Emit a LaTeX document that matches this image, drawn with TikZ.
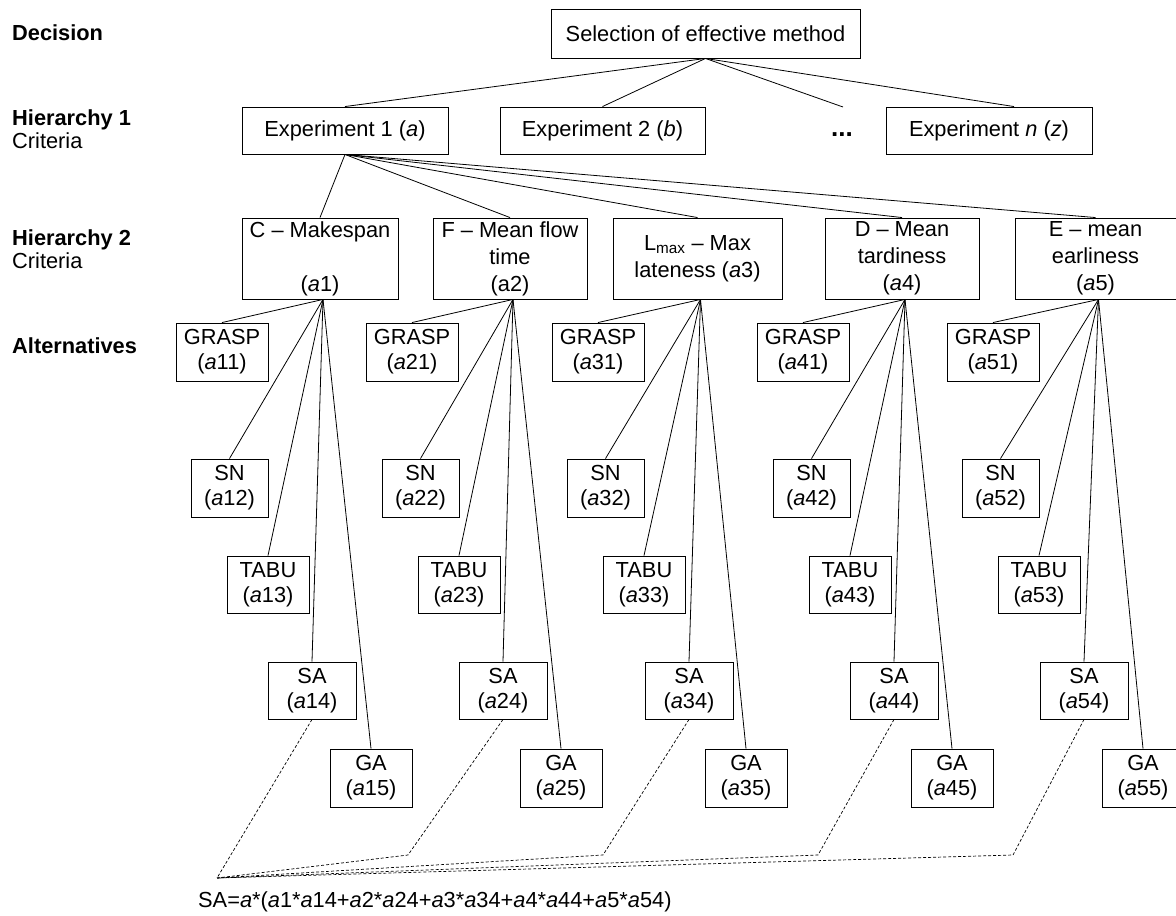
\documentclass[tikz,border=0pt]{standalone}
\usepackage{fontspec}
\setmainfont{Liberation Sans}
\begin{document}
\begin{tikzpicture}[x=1pt,y=-1pt,
  box/.style={draw, line width=0.9pt, inner sep=0pt, align=center, font=\fontsize{21.8}{25}\selectfont},
  crit/.style={box, minimum height=81pt, font=\fontsize{21.8}{27}\selectfont},
  link/.style={line width=0.8pt},
  dlink/.style={line width=0.7pt, dash pattern=on 3pt off 2pt},
  lab/.style={anchor=west, align=left, inner sep=0pt, font=\fontsize{21.8}{23}\selectfont}]
\clip (0,0) rectangle (1176,916);
\fill[white] (0,0) rectangle (1176,916);

% level labels
\node[lab] (ldec) at (12,33) {\textbf{Decision}};
\node[lab] (lh1) at (12,129.5) {\textbf{Hierarchy 1}\\Criteria};
\node[lab] (lh2) at (12,249.5) {\textbf{Hierarchy 2}\\Criteria};
\node[lab] (lalt) at (12,346) {\textbf{Alternatives}};

% decision
\node[box, minimum width=309pt, minimum height=49pt] (top) at (705.5,33.5) {Selection of effective method};

% hierarchy 1
\node[box, minimum width=206pt, minimum height=47pt] (e1) at (345,130.5) {Experiment 1 (\textit{a})};
\node[box, minimum width=205pt, minimum height=47pt] (e2) at (602.5,130.5) {Experiment 2 (\textit{b})};
\node[inner sep=0pt, font=\fontsize{26}{28}\selectfont\bfseries] (dots) at (842,135) {...};
\coordinate (dotsend) at (843,107);
\node[box, minimum width=206pt, minimum height=47pt] (en) at (989,130.5) {Experiment \textit{n} (\textit{z})};

% hierarchy 2
\node[crit, minimum width=156pt] (c1) at (320,258.5) {C – Makespan\\\mbox{}\\(\textit{a}1)};
\node[crit, minimum width=154pt] (c2) at (510,258.5) {F – Mean flow\\time\\(a2)};
\node[crit, minimum width=169pt] (c3) at (697.5,258.5) {L\textsubscript{max} – Max\\lateness (\textit{a}3)};
\node[crit, minimum width=154pt] (c4) at (902,258.5) {D – Mean\\tardiness\\(\textit{a}4)};
\node[crit, minimum width=161pt] (c5) at (1095.5,258.5) {E – mean\\earliness\\(\textit{a}5)};

% alternatives
\foreach \i/\gx/\sx/\tx/\ax/\fx in {1/222/229.5/268/312/371, 2/412/420.5/459/503/561, 3/598/605.5/644/689/746, 4/803/811.5/850/894/952, 5/993/1000.5/1039/1084/1143}{
  \node[box, minimum width=92pt, minimum height=58pt] (g\i) at (\gx,352) {GRASP\\(\textit{a}\i1)};
  \node[box, minimum width=77pt, minimum height=58pt] (s\i) at (\sx,488) {SN\\(\textit{a}\i2)};
  \node[box, minimum width=82pt, minimum height=57pt] (t\i) at (\tx,584.5) {TABU\\(\textit{a}\i3)};
  \node[box, minimum width=88pt, minimum height=57pt] (sa\i) at (\ax,690.5) {SA\\(\textit{a}\i4)};
  \node[box, minimum width=82pt, minimum height=58pt] (ga\i) at (\fx,778) {GA\\(\textit{a}\i5)};
}

% connectors
\draw[link] (top.south) -- (e1.north);
\draw[link] (top.south) -- (e2.north);
\draw[link] (top.south) -- (dotsend);
\draw[link] (top.south) -- ([xshift=25pt]en.north);
\foreach \i in {1,...,5}{
  \draw[link] (e1.south) -- (c\i.north);
  \draw[link] ([xshift=3pt]c\i.south) -- (g\i.north);
  \draw[link] ([xshift=3pt]c\i.south) -- (s\i.north);
  \draw[link] ([xshift=3pt]c\i.south) -- (t\i.north);
  \draw[link] ([xshift=3pt]c\i.south) -- (sa\i.north);
  \draw[link] ([xshift=3pt]c\i.south) -- (ga\i.north);
}

% formula links
\coordinate (conv) at (217,878);
\coordinate (k2) at (408,855);
\coordinate (k3) at (603,855);
\coordinate (k4) at (818,855);
\coordinate (k5) at (1013,855);
\draw[dlink] (sa1.south) -- (conv);
\foreach \i in {2,...,5}{
  \draw[dlink] (sa\i.south) -- (k\i) -- (conv);
}
\node[anchor=west, inner sep=0pt, font=\fontsize{21.8}{25}\selectfont] (formula) at (198,902)
  {SA=\textit{a}*(\textit{a}1*\textit{a}14+\textit{a}2*\textit{a}24+\textit{a}3*\textit{a}34+\textit{a}4*\textit{a}44+\textit{a}5*\textit{a}54)};
\end{tikzpicture}
\end{document}
